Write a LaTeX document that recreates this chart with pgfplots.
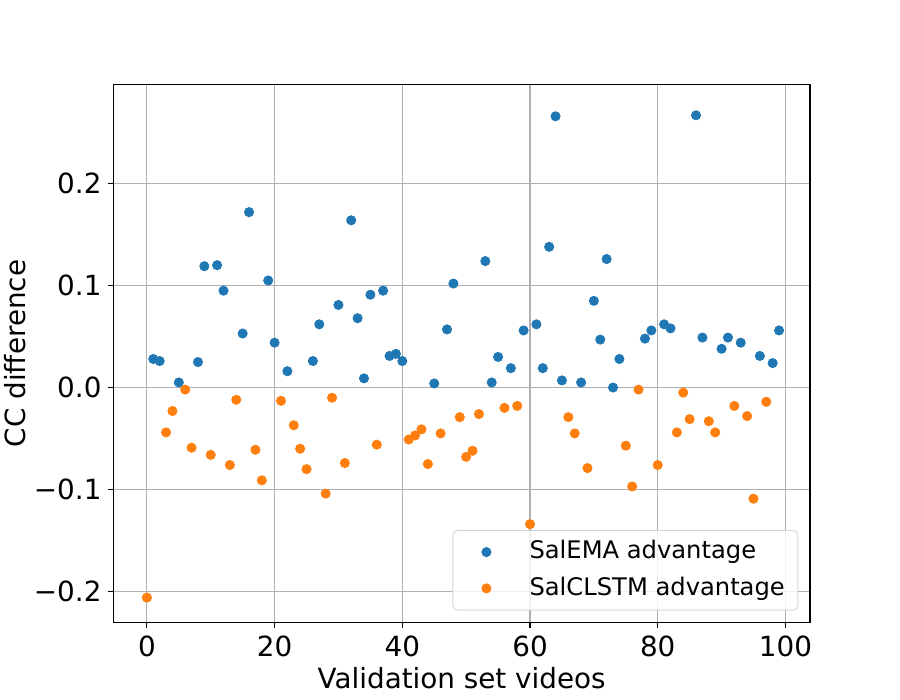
\documentclass[border=0pt]{standalone}
\usepackage{fontspec}
\setmainfont{DejaVu Sans}
\usepackage{pgfplots}
\pgfplotsset{compat=1.18}
\definecolor{tabblue}{HTML}{1F77B4}
\definecolor{taborange}{HTML}{FF7F0E}
\definecolor{gridgray}{HTML}{B0B0B0}
\pgfplotstableread{
x y
1 0.028
2 0.026
5 0.005
8 0.025
9 0.119
11 0.120
12 0.095
15 0.053
16 0.172
19 0.105
20 0.044
22 0.016
26 0.026
27 0.062
30 0.081
32 0.164
33 0.068
34 0.009
35 0.091
37 0.095
38 0.031
39 0.033
40 0.026
45 0.004
47 0.057
48 0.102
53 0.124
54 0.005
55 0.030
57 0.019
59 0.056
61 0.062
62 0.019
63 0.138
64 0.266
65 0.007
68 0.005
70 0.085
71 0.047
72 0.126
73 0.000
74 0.028
78 0.048
79 0.056
81 0.062
82 0.058
86 0.267
87 0.049
90 0.038
91 0.049
93 0.044
96 0.031
98 0.024
99 0.056
}\salema
\pgfplotstableread{
x y
0 -0.206
3 -0.044
4 -0.023
6 -0.002
7 -0.059
10 -0.066
13 -0.076
14 -0.012
17 -0.061
18 -0.091
21 -0.013
23 -0.037
24 -0.060
25 -0.080
28 -0.104
29 -0.010
31 -0.074
36 -0.056
41 -0.051
42 -0.047
43 -0.041
44 -0.075
46 -0.045
49 -0.029
50 -0.068
51 -0.062
52 -0.026
56 -0.020
58 -0.018
60 -0.134
66 -0.029
67 -0.045
69 -0.079
75 -0.057
76 -0.097
77 -0.002
80 -0.076
83 -0.044
84 -0.005
85 -0.031
88 -0.033
89 -0.044
92 -0.018
94 -0.028
95 -0.109
97 -0.014
}\salclstm
\begin{document}
\begin{tikzpicture}
\path[use as bounding box] (0,0) rectangle (450pt,350pt);
\begin{axis}[
  at={(56.65pt,38.65pt)}, anchor=south west,
  scale only axis, width=348.35pt, height=269.2pt,
  xmin=-5.26, xmax=103.85, ymin=-0.2306, ymax=0.2974,
  xtick={0,20,40,60,80,100}, xticklabels={0,20,40,60,80,100},
  ytick={-0.2,-0.1,0,0.1,0.2}, yticklabels={−0.2,−0.1,0.0,0.1,0.2},
  xtick pos=bottom, ytick pos=left,
  tick align=outside, major tick length=2.43pt,
  every tick/.style={black, line width=0.55pt},
  axis line style={black, line width=0.55pt},
  grid=major, major grid style={gridgray, line width=0.55pt},
  tick label style={font=\fontsize{13.9}{16}\selectfont},
  xticklabel style={inner sep=0pt, yshift=-4.05pt},
  yticklabel style={inner sep=0pt, xshift=-3.3pt},
  label style={font=\fontsize{13.9}{16}\selectfont},
  xlabel={Validation set videos},
  ylabel={CC difference},
  xlabel style={at={(axis description cs:0.5,-0.1215)}, anchor=base},
  ylabel style={at={(axis description cs:-0.1267,0.5)}, anchor=base},
  legend style={at={(1,0)}, anchor=south east, xshift=-5.85pt, yshift=6pt,
    draw=black!20, draw opacity=0.8, rounded corners=2.4pt, line width=0.5pt,
    fill=white, fill opacity=0.8, text opacity=1,
    font=\fontsize{12.1}{14}\selectfont,
    inner xsep=6.5pt, inner ysep=1.8pt, column sep=11.3pt, row sep=0pt,
    cells={anchor=base west},
    nodes={inner sep=0pt, text height=12.4pt, text depth=5.75pt}},
  legend image code/.code={\path (0pt,0pt) (20pt,0pt);
    \draw[#1, only marks, fill opacity=1, draw opacity=1] plot coordinates {(10pt,3.35pt)};},
]
\addplot[only marks, mark=*, mark size=2.3pt, mark options={fill=tabblue, draw=tabblue, line width=0.4pt, fill opacity=1, draw opacity=1}] table[x=x,y=y] {\salema};
\addlegendentry{SalEMA advantage}
\addplot[only marks, mark=*, mark size=2.3pt, mark options={fill=taborange, draw=taborange, line width=0.4pt, fill opacity=1, draw opacity=1}] table[x=x,y=y] {\salclstm};
\addlegendentry{SalCLSTM advantage}
\end{axis}
\end{tikzpicture}
\end{document}
